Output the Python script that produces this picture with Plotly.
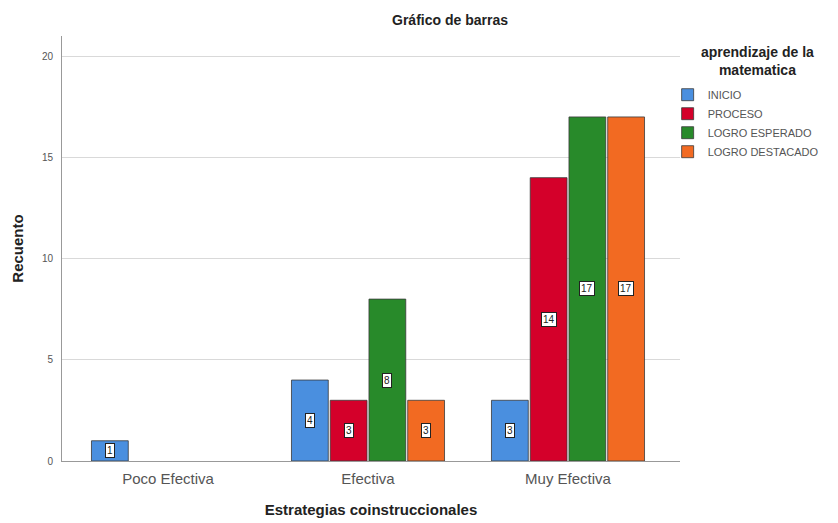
import plotly.graph_objects as go

categories = ["Poco Efectiva", "Efectiva", "Muy Efectiva"]
series_names = ["INICIO", "PROCESO", "LOGRO ESPERADO", "LOGRO DESTACADO"]
inicio = [1, 4, 3]
proceso = [None, 3, 14]
logro_esperado = [None, 8, 17]
logro_destacado = [None, 3, 17]
y_ticks = [0, 5, 10, 15, 20]

colors = ["#4a8fdf", "#d4002a", "#288a2a", "#f26a22"]
series_values = [inicio, proceso, logro_esperado, logro_destacado]

BARGAP = 0.225
FONT = "Liberation Sans, Arial, sans-serif"

fig = go.Figure()
for name, vals, col in zip(series_names, series_values, colors):
    fig.add_trace(go.Bar(
        name=name, x=categories, y=vals,
        marker=dict(color=col, line=dict(color="#3a3a3a", width=0.8)),
    ))

# boxed value labels centered in each bar
n = len(series_names)
slot = (1 - BARGAP) / n
for j, vals in enumerate(series_values):
    for i, v in enumerate(vals):
        if v is None:
            continue
        fig.add_annotation(
            x=i + (j - (n - 1) / 2) * slot, y=v / 2, xref="x", yref="y",
            text=str(v), showarrow=False,
            font=dict(family=FONT, size=10, color="#222"),
            bgcolor="white", bordercolor="#222", borderwidth=1, borderpad=1,
        )

# legend title (centered block above the legend items)
fig.add_annotation(
    x=1.126, y=0.941, xref="paper", yref="paper", xanchor="center", yanchor="middle",
    text="<b>aprendizaje de la<br>matematica</b>", showarrow=False, align="center",
    font=dict(family=FONT, size=14, color="#222"),
)

fig.update_layout(
    width=838, height=523,
    margin=dict(l=62, r=158, t=36, b=62, autoexpand=False),
    paper_bgcolor="white", plot_bgcolor="white",
    barmode="group", bargap=BARGAP, bargroupgap=0.05,
    font=dict(family=FONT, color="#333"),
    title=dict(text="<b>Gráfico de barras</b>", x=450 / 838, xanchor="center",
               xref="container", y=1 - 20 / 523, yref="container", yanchor="middle",
               font=dict(size=14, color="#222")),
    showlegend=True,
    legend=dict(
        x=0.98, xanchor="left", y=0.896, yanchor="top",
        font=dict(size=11, color="#555"),
        tracegroupgap=0, itemwidth=30, bgcolor="rgba(0,0,0,0)",
    ),
    xaxis=dict(
        type="category", range=[-0.53, 2.56], automargin=False,
        showline=True, linecolor="#999", linewidth=1,
        ticks="outside", ticklen=4, tickcolor="rgba(0,0,0,0)",
        tickfont=dict(size=15, color="#555"),
        title=dict(text="<b>Estrategias coinstruccionales</b>", standoff=18,
                   font=dict(size=15, color="#222")),
    ),
    yaxis=dict(
        range=[0, 21], tickvals=y_ticks, ticktext=[str(t) for t in y_ticks],
        automargin=False,
        showline=True, linecolor="#999", linewidth=1,
        showgrid=True, gridcolor="#d9d9d9", gridwidth=1, zeroline=False,
        ticks="outside", ticklen=6, tickcolor="rgba(0,0,0,0)",
        tickfont=dict(size=10, color="#555"),
        title=dict(text="<b>Recuento</b>", standoff=14,
                   font=dict(size=15, color="#222")),
    ),
)

fig.write_html("out.html")
